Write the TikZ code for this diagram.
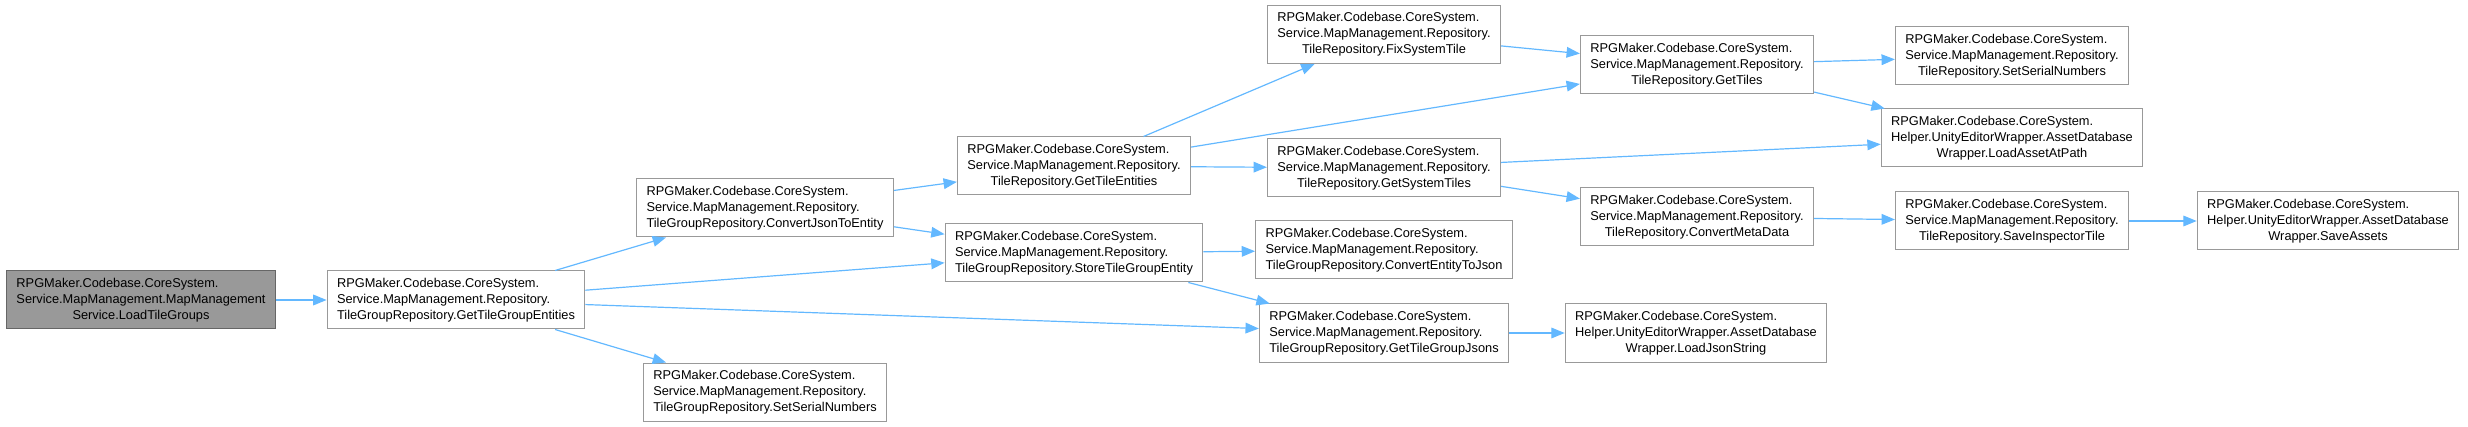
\documentclass[tikz,border=0pt]{standalone}
\usepackage{fontspec}
\setmainfont{Liberation Sans}
\usepackage{xcolor}
\usetikzlibrary{arrows.meta}

\definecolor{edgeblue}{HTML}{63B8FF}
\definecolor{boxgray}{HTML}{999999}
\definecolor{rootfill}{HTML}{999999}
\definecolor{rootdraw}{HTML}{666666}

% three-line doxygen style labels
\newcommand{\fnlabel}[3]{\begin{tabular}{@{}l@{}}#1\\#2\\\multicolumn{1}{@{}c@{}}{#3}\end{tabular}}
\newcommand{\repolabel}[1]{\fnlabel{RPGMaker.Codebase.CoreSystem.}{Service.MapManagement.Repository.}{#1}}
\newcommand{\helperlabel}[1]{\fnlabel{RPGMaker.Codebase.CoreSystem.}{Helper.UnityEditorWrapper.AssetDatabase}{#1}}

\begin{document}
\begin{tikzpicture}[x=0.75pt, y=-0.75pt,
    every node/.style={font=\fontsize{9.6}{12}\selectfont},
    fnbox/.style={draw=boxgray, fill=white, line width=0.75pt, inner xsep=7.5pt, inner ysep=0pt, minimum height=43.5pt},
    rootbox/.style={fnbox, fill=rootfill, draw=rootdraw},
    call/.style={draw=edgeblue, line width=0.9pt, -{Triangle[length=10pt,width=8pt]}}]
    \useasboundingbox (0,0) rectangle (2468,427);

    % Caller
    \node[rootbox] (root) at (141, 300) {\fnlabel{RPGMaker.Codebase.CoreSystem.}{Service.MapManagement.MapManagement}{Service.LoadTileGroups}};

    % TileGroupRepository
    \node[fnbox] (gtge) at (456, 300) {\repolabel{TileGroupRepository.GetTileGroupEntities}};
    \node[fnbox] (cjte) at (765, 208) {\repolabel{TileGroupRepository.ConvertJsonToEntity}};
    \node[fnbox] (ssnTG) at (765, 392) {\repolabel{TileGroupRepository.SetSerialNumbers}};
    \node[fnbox] (gte) at (1074, 166) {\repolabel{TileRepository.GetTileEntities}};
    \node[fnbox] (stge) at (1074, 253) {\repolabel{TileGroupRepository.StoreTileGroupEntity}};

    % TileRepository
    \node[fnbox] (fst) at (1384, 34.5) {\repolabel{TileRepository.FixSystemTile}};
    \node[fnbox] (gst) at (1384, 168) {\repolabel{TileRepository.GetSystemTiles}};
    \node[fnbox] (cetj) at (1384, 250) {\repolabel{TileGroupRepository.ConvertEntityToJson}};
    \node[fnbox] (gtgj) at (1384, 333) {\repolabel{TileGroupRepository.GetTileGroupJsons}};
    \node[fnbox] (gt) at (1697, 65) {\repolabel{TileRepository.GetTiles}};
    \node[fnbox] (cmd) at (1697, 217) {\repolabel{TileRepository.ConvertMetaData}};
    \node[fnbox] (ljs) at (1696, 333) {\helperlabel{Wrapper.LoadJsonString}};
    \node[fnbox] (ssnT) at (2012, 56) {\repolabel{TileRepository.SetSerialNumbers}};
    \node[fnbox] (laap) at (2012, 138) {\helperlabel{Wrapper.LoadAssetAtPath}};
    \node[fnbox] (sit) at (2012, 221) {\repolabel{TileRepository.SaveInspectorTile}};
    \node[fnbox] (sa) at (2328, 221) {\helperlabel{Wrapper.SaveAssets}};

    % Calls
    \draw[call] (root) -- (gtge);
    \draw[call] (gtge) -- (cjte);
    \draw[call] (gtge) -- (stge);
    \draw[call] (gtge) -- (gtgj);
    \draw[call] (gtge) -- (ssnTG);
    \draw[call] (cjte) -- (gte);
    \draw[call] (cjte) -- (stge);
    \draw[call] (gte) -- (fst);
    \draw[call] (gte) -- (gt);
    \draw[call] (gte) -- (gst);
    \draw[call] (stge) -- (cetj);
    \draw[call] (stge) -- (gtgj);
    \draw[call] (fst) -- (gt);
    \draw[call] (gt) -- (ssnT);
    \draw[call] (gt) -- (laap);
    \draw[call] (gst) -- (laap);
    \draw[call] (gst) -- (cmd);
    \draw[call] (cmd) -- (sit);
    \draw[call] (sit) -- (sa);
    \draw[call] (gtgj) -- (ljs);
\end{tikzpicture}
\end{document}
